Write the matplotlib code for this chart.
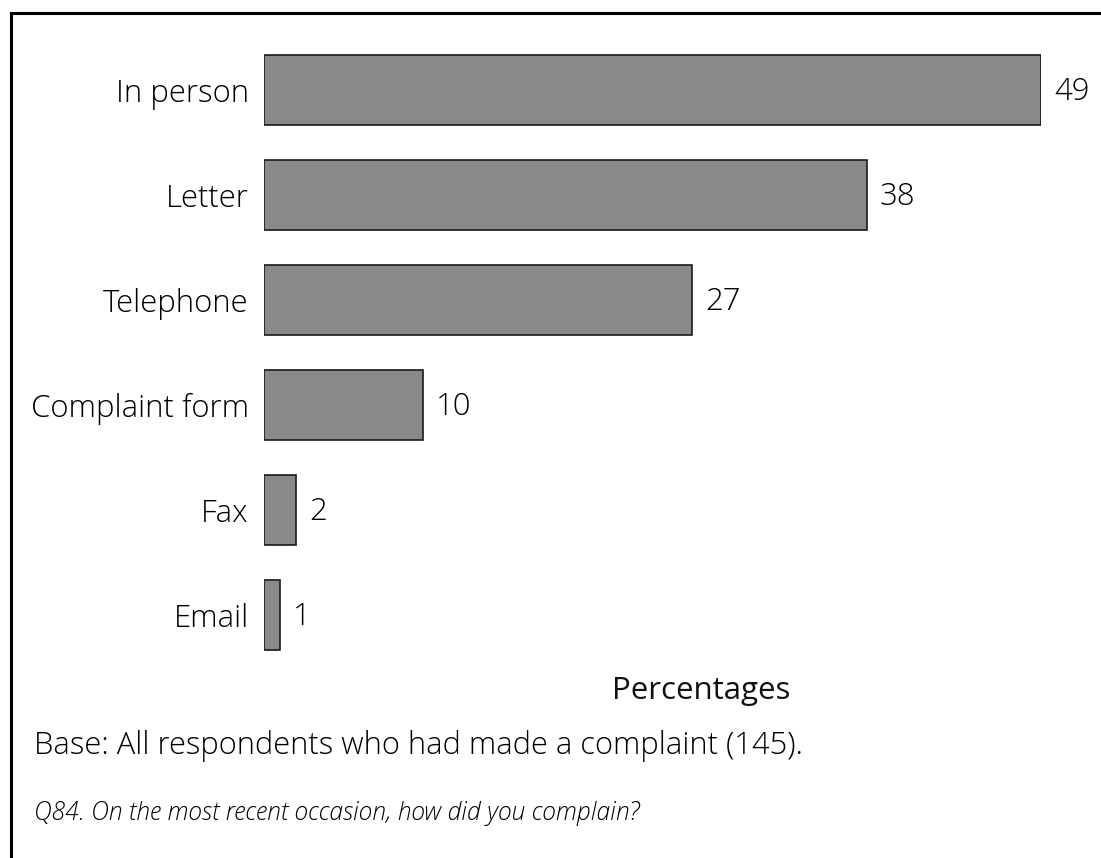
import matplotlib.pyplot as plt
from matplotlib.lines import Line2D

categories = ["In person", "Letter", "Telephone", "Complaint form", "Fax", "Email"]
values = [49, 38, 27, 10, 2, 1]

plt.rcParams['font.family'] = ['Open Sans', 'DejaVu Sans']

fig = plt.figure(figsize=(11.01, 8.58), dpi=100)
ax = fig.add_axes([264/1101, 1 - 667.5/858, (1041 - 264)/1101, 630/858])

ypos = list(range(len(categories)))
bars = ax.barh(ypos, values, height=0.67, color='#898989', edgecolor='#1a1a1a', linewidth=1.2)
ax.set_xlim(0, 49)
ax.set_ylim(len(categories) - 0.5, -0.5)

for y, v in zip(ypos, values):
    ax.text(v + 0.85, y + 0.02, str(v), va='center', ha='left', fontsize=22.4, fontweight='light',
            color='black', clip_on=False)

ax.set_yticks(ypos)
ax.set_yticklabels(categories, fontsize=22.4, fontweight='light', color='black')
ax.tick_params(axis='y', length=0, pad=11)
ax.set_xticks([])
for s in ax.spines.values():
    s.set_visible(False)

fig.text(701/1101, 1 - 691/858, "Percentages", ha='center', va='center', fontsize=22.5, color='#111111')
fig.text(34/1101, 1 - 746/858, "Base: All respondents who had made a complaint (145).", ha='left', va='center',
         fontsize=22.2, fontweight='light', color='black')
fig.text(34/1101, 1 - 813/858, "Q84. On the most recent occasion, how did you complain?", ha='left', va='center',
         fontsize=17.7, fontweight='light', style='italic', color='black')

# frame lines top and left
fig.add_artist(Line2D([11/1101, 1.0], [1 - 13/858, 1 - 13/858], color='black', linewidth=2.2, transform=fig.transFigure))
fig.add_artist(Line2D([11/1101, 11/1101], [0.0, 1 - 13/858], color='black', linewidth=2.2, transform=fig.transFigure))

fig.savefig('out.png', dpi=100)
